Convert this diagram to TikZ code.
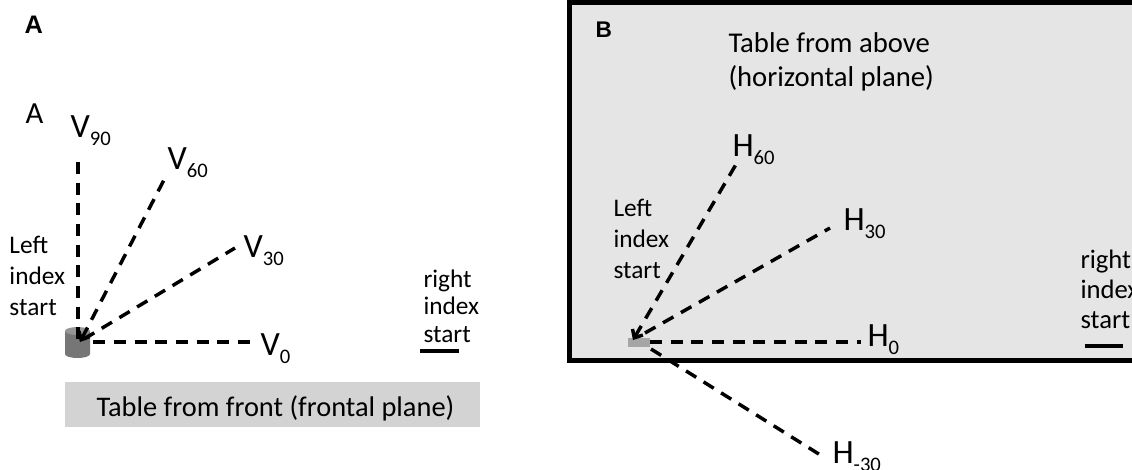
\documentclass[tikz,border=0pt]{standalone}
\usepackage{fontspec}
\setmainfont{Carlito}
\newfontfamily\panelfont{Liberation Sans}
\usetikzlibrary{arrows.meta}
\definecolor{frontgray}{RGB}{211,211,211}
\definecolor{abovegray}{RGB}{229,229,229}
\definecolor{cylbody}{RGB}{118,118,118}
\definecolor{cyltop}{RGB}{150,150,150}
\definecolor{idxgray}{RGB}{165,165,165}
\newcommand{\angsub}[2]{#1\raisebox{-6pt}{\fontsize{15.5}{15.5}\selectfont #2}}

\tikzset{every picture/.style={line width=0.75pt}}
\tikzset{
  dashln/.style={line width=2.6pt, dash pattern={on 9pt off 6.5pt}},
  tipln/.style={dashln, {Straight Barb[length=5pt,width=9pt]}-},
  anglab/.style={inner sep=0pt, anchor=base west, font=\fontsize{25.5}{25.5}\selectfont},
  % multi-line texts: base is the baseline of the last line
  sidetxt/.style 2 args={inner sep=0pt, anchor=base west, align=left, font=\fontsize{#1}{#2}\selectfont},
  panellab/.style={inner sep=0pt, anchor=base west, font=\panelfont\bfseries\fontsize{#1}{#1}\selectfont},
  idxbar/.style={line width=3pt},
}

\begin{document}
\begin{tikzpicture}[x=0.75pt,y=0.75pt,yscale=-1.0,xscale=1.0]
    \useasboundingbox (0,0) rectangle (1132,469);

    % Panel A
    \node [panellab=19] (labA) at (24,33) {A};
    \node [inner sep=0pt, anchor=base west, font=\fontsize{23}{23}\selectfont] (subA) at (25,123) {A};
    % Table (frontal plane)
    \draw [draw=none, fill=frontgray] (65,382) rectangle (480,427);
    \node [inner sep=0pt, anchor=base west, font=\fontsize{21.3}{21.3}\selectfont] (frontT) at (96,416) {Table from front (frontal plane)};
    % Cylinder
    \fill [cylbody] (65,331) -- (65,354) arc [start angle=180, end angle=0, x radius=12.5, y radius=4] -- (90,331) -- cycle;
    \fill [cyltop] (77.5,331) ellipse [x radius=12.5, y radius=4];
    \coordinate (oA) at (80,342);
    % Angle labels
    \node [anglab] (v90) at (70,137) {\angsub{V}{90}};
    \node [anglab] (v60) at (167,169) {\angsub{V}{60}};
    \node [anglab] (v30) at (243,257) {\angsub{V}{30}};
    \node [anglab] (v0) at (260,355) {\angsub{V}{0}};
    \coordinate (e90) at (78,162);
    \coordinate (e60) at (165,178);
    \coordinate (e30) at (235,248);
    \coordinate (e0) at (257,342);
    % Connection
    \draw [dashln] (e90) -- (oA -| e90);
    \draw [tipln] (oA) -- (e60);
    \draw [dashln] ([shift={(4,-3)}]oA) -- (e30);
    \draw [dashln] ([xshift=10]oA) -- (e0);
    % Text Node
    \node [sidetxt={19}{23}] (leftA) at (9,315) {Left\\index\\start};
    \node [sidetxt={19}{20.6}] (rightA) at (423,342) {right\\index\\start};
    \draw [idxbar] (420,351) -- (459,351);

    % Panel B
    \draw [line width=3.75pt, fill=abovegray] (569.5,2.5) rectangle (1145,360);
    \node [panellab=17] (labB) at (595,37) {B};
    \node [sidetxt={21.5}{25}] (aboveT) at (728,86) {Table from above\\(horizontal plane)};
    \fill [idxgray] (628,338) rectangle (650,347);
    \coordinate (oB) at (633,340);
    % Angle labels
    \node [anglab] (h60) at (732,156) {\angsub{H}{60}};
    \node [anglab] (h30) at (843,230) {\angsub{H}{30}};
    \node [anglab] (h0) at (867,346) {\angsub{H}{0}};
    \node [anglab] (hm30) at (832,463) {\angsub{H}{-30}};
    \coordinate (f60) at (738,161);
    \coordinate (f30) at (830,228);
    \coordinate (f0) at (861,342);
    \coordinate (fm30) at (822,456);
    % Connection
    \draw [tipln] (oB) -- (f60);
    \draw [dashln] ([shift={(12,-7)}]oB) -- (f30);
    \draw [dashln] ([shift={(17,2)}]oB) -- (f0);
    \draw [dashln] ([shift={(18,9)}]oB) -- (fm30);
    % Text Node
    \node [sidetxt={19}{23}] (leftB) at (613,278) {Left\\index\\start};
    \node [sidetxt={20}{22.5}] (rightB) at (1080,328) {right\\index\\start};
    \draw [idxbar] (1085,346) -- (1123,346);
\end{tikzpicture}
\end{document}
